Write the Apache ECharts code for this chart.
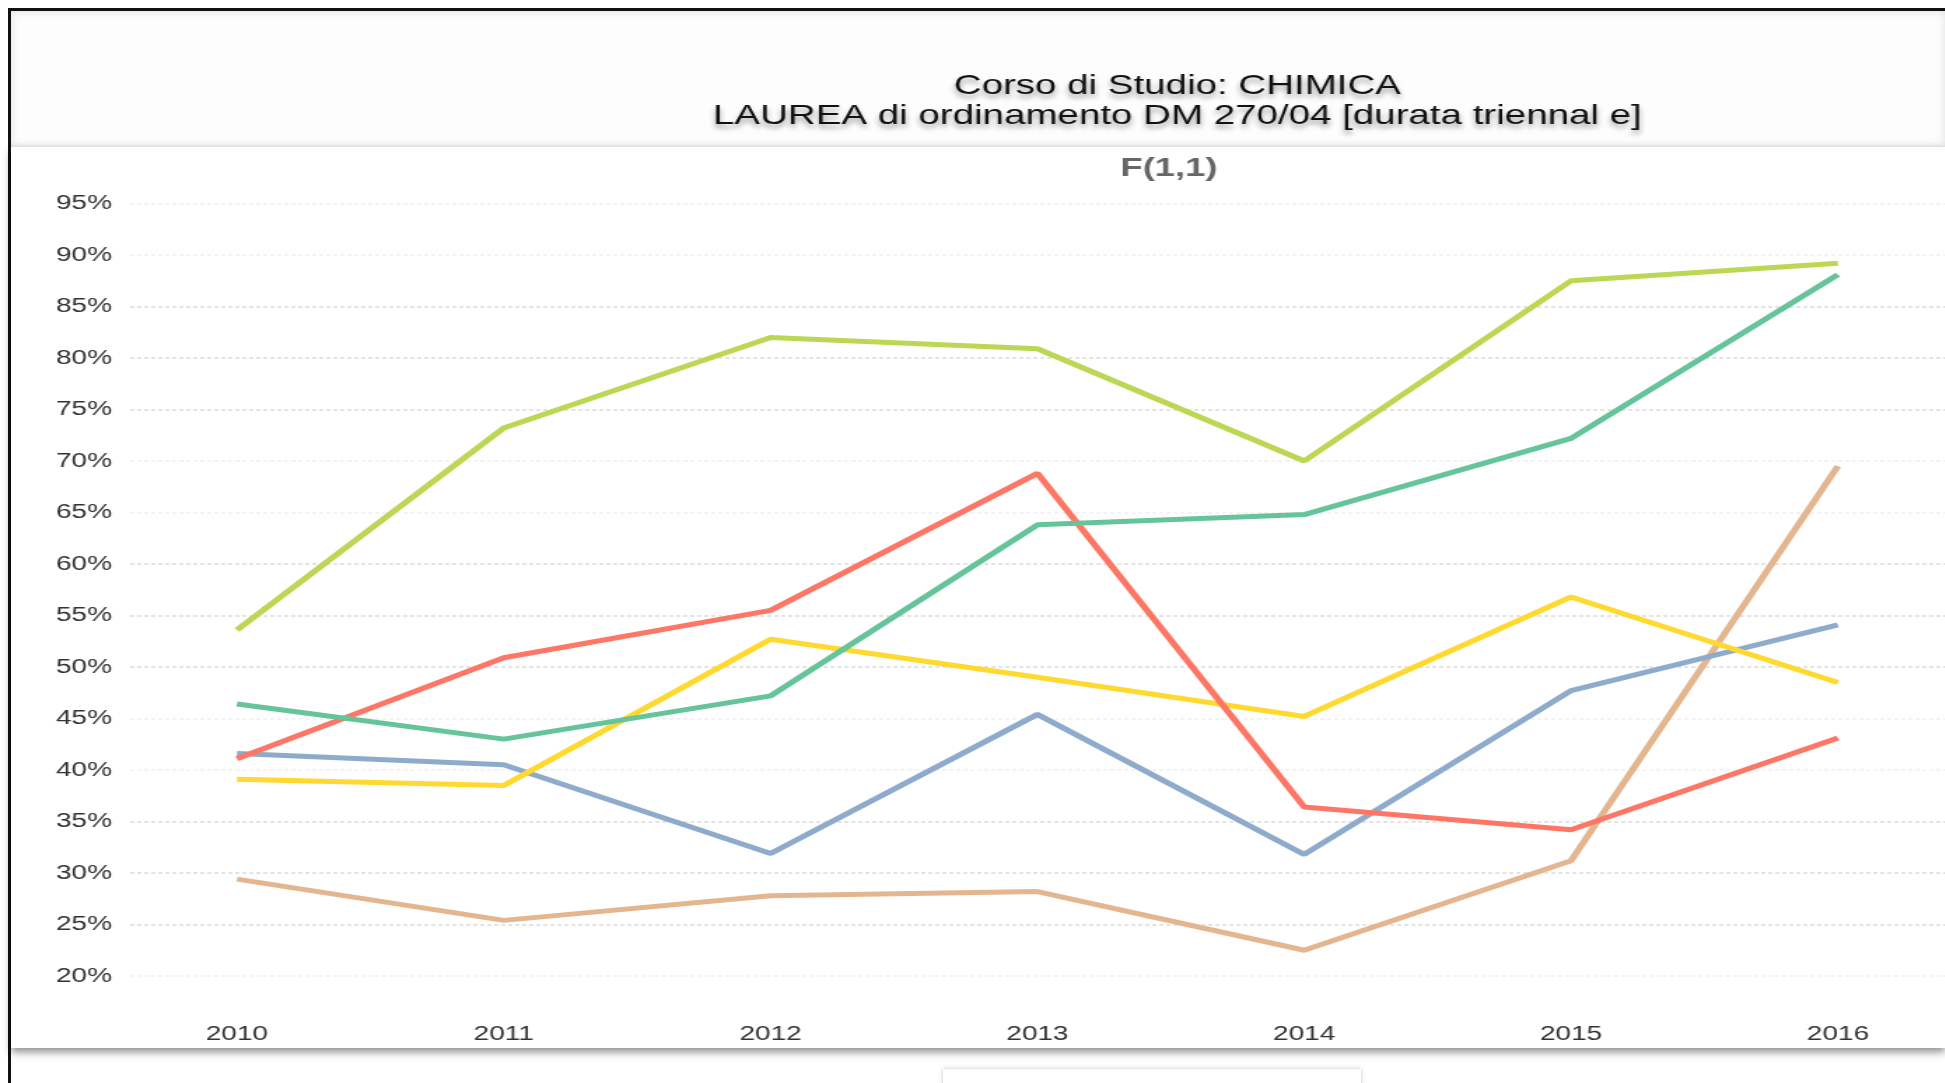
<!DOCTYPE html>
<html>
<head>
<meta charset="utf-8">
<script src="https://cdn.jsdelivr.net/npm/echarts@6/dist/echarts.min.js"></script>
<style>
  body { margin: 0; background: #fff; overflow: hidden; width: 1945px; height: 1083px; position: relative; }
  #frame { position: absolute; left: 8px; top: 8px; width: 1945px; height: 1083px; border-left: 3px solid #111; border-top: 3px solid #111; }
  #head { position: absolute; left: 11px; top: 11px; width: 1934px; height: 136px; background: #fdfdfd; box-shadow: inset 0 0 10px rgba(0,0,0,0.12); }
  #panel { position: absolute; left: 11px; top: 147px; width: 1934px; height: 901px; background: #fff; box-shadow: 0 4px 8px rgba(0,0,0,0.45); }
  #legendBox { position: absolute; left: 943px; top: 1069px; width: 418px; height: 40px; background: #fff; box-shadow: 0 0 4px rgba(0,0,0,0.25); }
  /* il grafico viene allargato in orizzontale come nello screenshot originale */
  #main { position: absolute; left: 0; top: 0; width: 1389px; height: 1083px; transform: scaleX(1.4); transform-origin: 0 0; }
</style>
</head>
<body>
<div id="frame"></div>
<div id="head"></div>
<div id="panel"></div>
<div id="legendBox"></div>
<div id="main"></div>
<script>
// anni accademici
var anni = [2010, 2011, 2012, 2013, 2014, 2015, 2016];

// valori (percentuali)
var serieLime = [53.6, 73.2, 82.0, 80.9, 70.0, 87.5, 89.2];
var serieVerde = [46.4, 43.0, 47.2, 63.8, 64.8, 72.2, 88.1];
var serieRossa = [41.1, 50.9, 55.5, 68.8, 36.4, 34.2, 43.1];
var serieGialla = [39.1, 38.5, 52.7, 49.0, 45.2, 56.8, 48.5];
var serieBlu = [41.6, 40.5, 31.9, 45.4, 31.8, 47.7, 54.1];
var serieSabbia = [29.4, 25.4, 27.8, 28.2, 22.5, 31.2, 69.5];

var font = "'Liberation Sans', Arial, sans-serif";

function linea(nome, valori, colore) {
    return {
        name: nome,
        type: 'line',
        showSymbol: false,
        silent: true,
        data: valori.map(function (v, i) { return [anni[i], v]; }),
        lineStyle: { color: colore, width: 5 },
        itemStyle: { color: colore }
    };
}

var myChart = echarts.init(document.getElementById('main'));

myChart.setOption({
    animation: false,
    backgroundColor: 'transparent',
    title: [{
        text: 'Corso di Studio: CHIMICA\nLAUREA di ordinamento DM 270/04 [durata triennal e]',
        left: 836,
        top: 66,
        textAlign: 'center',
        textStyle: {
            fontFamily: font,
            fontSize: 27.5,
            fontWeight: 'normal',
            lineHeight: 30,
            color: '#111',
            textShadowColor: 'rgba(0,0,0,0.4)',
            textShadowBlur: 5,
            textShadowOffsetY: 4
        }
    }, {
        text: 'F(1,1)',
        left: 830,
        top: 151,
        textAlign: 'center',
        textStyle: { fontFamily: font, fontSize: 26, fontWeight: 'bold', color: '#666' }
    }],
    grid: { left: 93, right: 0, top: 203.5, bottom: 107 },
    xAxis: {
        type: 'value',
        min: 2009.6,
        max: 2016.4,
        axisLine: { show: false },
        axisTick: { show: false },
        splitLine: { show: false },
        axisLabel: {
            customValues: anni,
            formatter: function (v) { return String(v); },
            margin: 48,
            fontFamily: font,
            fontSize: 20,
            color: '#333'
        }
    },
    yAxis: {
        type: 'value',
        min: 20,
        max: 95,
        interval: 5,
        axisLine: { show: false },
        axisTick: { show: false },
        axisLabel: {
            formatter: '{value}%',
            margin: 13,
            fontFamily: font,
            fontSize: 20,
            color: '#333'
        },
        splitLine: {
            lineStyle: {
                // alcune righe appaiono più chiare nello screenshot
                color: ['#f0f0f0', '#dcdcdc', '#dcdcdc', '#dcdcdc', '#f0f0f0'],
                type: [3, 2],
                width: 1.5
            }
        }
    },
    series: [
        linea('Serie 6', serieSabbia, '#e4b68f'),
        linea('Serie 5', serieBlu, '#8eabcc'),
        linea('Serie 4', serieGialla, '#ffd92f'),
        linea('Serie 3', serieRossa, '#fe7766'),
        linea('Serie 2', serieVerde, '#66c49a'),
        linea('Serie 1', serieLime, '#bcd753')
    ]
});
</script>
</body>
</html>
